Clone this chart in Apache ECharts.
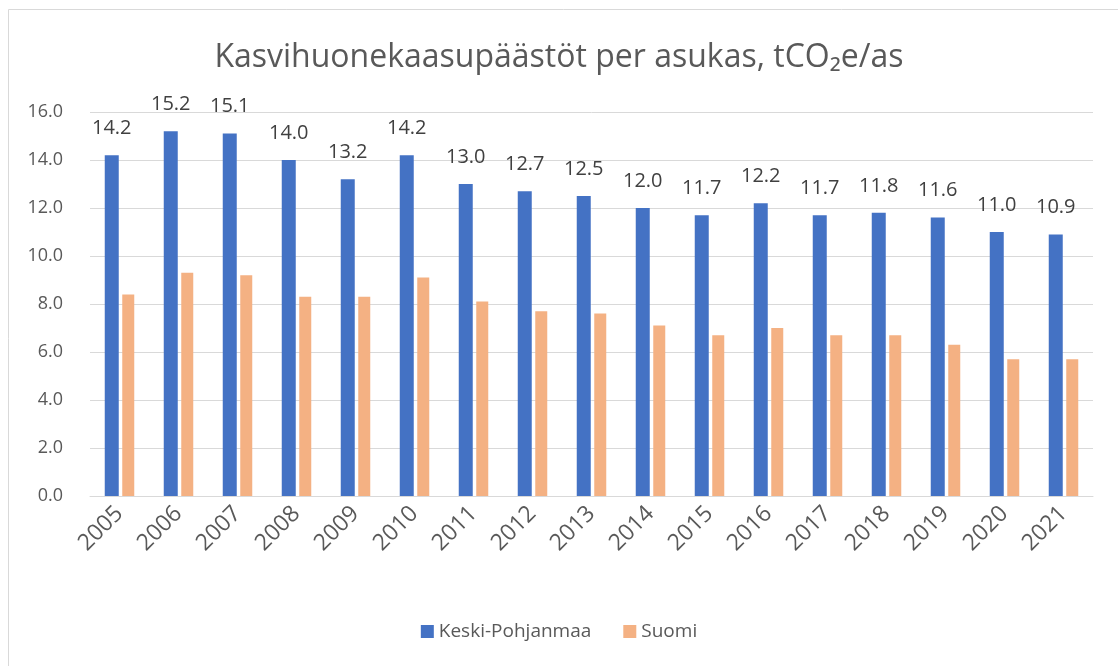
<!DOCTYPE html>
<html>
<head>
<meta charset="utf-8">
<script src="https://cdn.jsdelivr.net/npm/echarts@6/dist/echarts.min.js"></script>
<style>
	html, body { margin: 0; padding: 0; background: #fff; }
	#chart { width: 1118px; height: 666px; }
</style>
</head>
<body>
<div id="chart"></div>
<script>
let years = ['2005', '2006', '2007', '2008', '2009', '2010', '2011', '2012', '2013', '2014', '2015', '2016', '2017', '2018', '2019', '2020', '2021'];
let keski_pohjanmaa = [14.2, 15.2, 15.1, 14.0, 13.2, 14.2, 13.0, 12.7, 12.5, 12.0, 11.7, 12.2, 11.7, 11.8, 11.6, 11.0, 10.9];
let suomi = [8.4, 9.3, 9.2, 8.3, 8.3, 9.1, 8.1, 7.7, 7.6, 7.1, 6.7, 7.0, 6.7, 6.7, 6.3, 5.7, 5.7];
let series_names = ['Keski-Pohjanmaa', 'Suomi'];

let font = '"Open Sans", "Noto Sans", sans-serif';
let chart = echarts.init(document.getElementById('chart'));
let option = {
	animation: false,
	color: ['#4472C4', '#F4B183'],
	// 外框
	graphic: [
		{
			type: 'rect',
			shape: { x: 8.5, y: 9.5, width: 1200, height: 700 },
			style: { fill: 'none', stroke: '#D9D9D9', lineWidth: 1 },
		},
	],
	title: {
		text: 'Kasvihuonekaasupäästöt per asukas, tCO₂e/as',
		left: 'center',
		top: 37,
		textStyle: { fontFamily: font, fontSize: 32, fontWeight: 'normal', color: '#595959' },
	},
	legend: {
		data: series_names,
		bottom: 20,
		left: 'center',
		itemWidth: 13,
		itemHeight: 13,
		itemGap: 32,
		icon: 'rect',
		textStyle: { fontFamily: font, fontSize: 19, color: '#595959' },
	},
	grid: { left: 90, right: 25, top: 112, bottom: 170 },
	xAxis: {
		type: 'category',
		data: years,
		axisTick: { show: false },
		axisLine: { lineStyle: { color: '#D9D9D9' } },
		axisLabel: { rotate: 45, margin: 14, fontFamily: font, fontSize: 23, color: '#595959' },
	},
	yAxis: {
		type: 'value',
		min: 0,
		max: 16,
		interval: 2,
		axisLabel: {
			margin: 27,
			fontFamily: font,
			fontSize: 18,
			color: '#595959',
			formatter: (v) => v.toFixed(1),
		},
		splitLine: { lineStyle: { color: '#D9D9D9' } },
	},
	series: [
		{
			name: series_names[0],
			type: 'bar',
			data: keski_pohjanmaa,
			barWidth: 14,
			barGap: '25%',
			label: {
				show: true,
				position: 'top',
				distance: 17,
				fontFamily: font,
				fontSize: 20,
				color: '#404040',
				formatter: (p) => p.value.toFixed(1),
			},
		},
		{
			name: series_names[1],
			type: 'bar',
			data: suomi,
			barWidth: 12,
		},
	],
};
chart.setOption(option);
</script>
</body>
</html>
